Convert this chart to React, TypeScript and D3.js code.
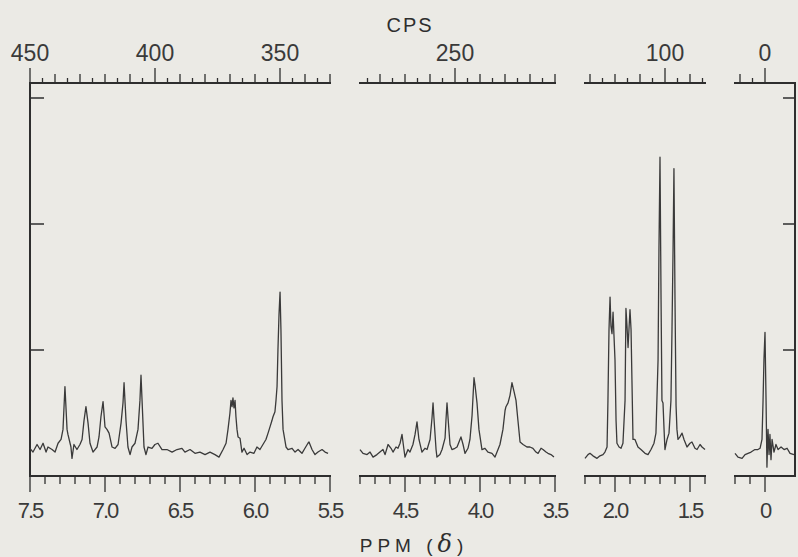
import * as d3 from "d3";

// 60 Mc NMR trace, broken ppm axis with cps scale on top
const MHZ = 60;

// ppm range of each axis piece (high -> low)
const segRanges: [number, number][] = [[7.5, 5.5], [4.8, 3.5], [2.2, 1.4], [0.2, -0.2]];

// bottom labels
const ppmTicks = [7.5, 7.0, 6.5, 6.0, 5.5, 4.5, 4.0, 3.5, 2.0, 1.5, 0];
const ppmTickText = ["7.5", "7.0", "6.5", "6.0", "5.5", "4.5", "4.0", "3.5", "2.0", "1.5", "0"];
// top labels
const cpsTicks = [450, 400, 350, 250, 100, 0];

// trace pieces: [ppm, intensity]
const traceVinyl: [number, number][] = [
  [7.5, 2.2], [7.48, 1.9], [7.453, 2.5], [7.433, 2.1], [7.413, 2.6], [7.393, 1.9], [7.38, 2.3], [7.353, 2.1],
  [7.333, 1.9], [7.313, 2.6], [7.293, 2.9], [7.28, 3.7], [7.267, 7.1], [7.253, 3.7], [7.247, 3.3], [7.227, 2.3],
  [7.22, 1.4], [7.207, 2.5], [7.187, 2.1], [7.167, 2.5], [7.153, 2.9], [7.14, 4.4], [7.127, 5.5], [7.113, 4.2],
  [7.1, 2.6], [7.08, 1.9], [7.053, 2.3], [7.04, 3.1], [7.027, 4.7], [7.013, 5.9], [7.0, 3.9], [6.987, 3.7],
  [6.973, 3.4], [6.953, 2.3], [6.933, 2.2], [6.913, 2.5], [6.893, 4.2], [6.88, 5.8], [6.873, 7.4], [6.86, 4.4],
  [6.847, 2.3], [6.833, 1.7], [6.82, 2.3], [6.8, 2.6], [6.78, 3.7], [6.767, 6.0], [6.76, 8.0], [6.753, 6.0],
  [6.74, 2.3], [6.727, 1.7], [6.713, 2.3], [6.687, 2.2], [6.667, 2.5], [6.647, 2.6], [6.62, 2.1], [6.587, 2.1],
  [6.553, 1.9], [6.52, 2.1], [6.487, 2.2], [6.467, 1.9], [6.433, 2.1], [6.4, 1.8], [6.367, 1.9], [6.333, 1.7],
  [6.3, 1.9], [6.267, 1.7], [6.24, 1.5], [6.213, 2.1], [6.193, 2.6], [6.18, 3.7], [6.167, 5.0], [6.16, 6.0],
  [6.153, 5.5], [6.147, 6.2], [6.14, 5.4], [6.133, 6.0], [6.127, 4.7], [6.12, 3.7], [6.113, 3.1], [6.1, 3.0],
  [6.087, 1.9], [6.073, 2.2], [6.053, 1.7], [6.033, 1.9], [6.007, 1.8], [5.987, 2.3], [5.967, 2.1], [5.947, 2.5],
  [5.927, 2.9], [5.913, 3.4], [5.9, 3.9], [5.887, 4.4], [5.88, 4.7], [5.867, 5.1], [5.86, 6.0], [5.853, 7.1],
  [5.847, 10.0], [5.84, 12.8], [5.833, 14.6], [5.827, 11.6], [5.82, 6.0], [5.813, 3.7], [5.793, 2.3], [5.78, 2.1],
  [5.753, 2.2], [5.733, 1.9], [5.713, 2.1], [5.687, 1.8], [5.667, 2.2], [5.647, 2.6], [5.64, 2.7], [5.62, 2.1],
  [5.6, 1.7], [5.58, 1.9], [5.553, 2.1], [5.533, 1.9], [5.513, 1.8],
];

const traceMid: [number, number][] = [
  [4.8, 2.1], [4.78, 1.8], [4.753, 1.7], [4.733, 1.9], [4.713, 1.5], [4.687, 1.7], [4.667, 1.9], [4.647, 2.1],
  [4.633, 1.7], [4.613, 2.5], [4.593, 2.2], [4.58, 1.9], [4.56, 2.3], [4.547, 2.2], [4.533, 2.6], [4.52, 3.3],
  [4.507, 2.1], [4.5, 1.5], [4.48, 2.1], [4.467, 1.9], [4.447, 2.5], [4.433, 3.3], [4.42, 4.3], [4.407, 2.9],
  [4.387, 1.9], [4.367, 2.2], [4.353, 2.1], [4.333, 2.9], [4.32, 4.6], [4.313, 5.8], [4.307, 4.6], [4.293, 2.1],
  [4.287, 1.5], [4.267, 1.7], [4.253, 2.1], [4.233, 3.0], [4.227, 4.4], [4.22, 5.8], [4.213, 4.6], [4.2, 2.5],
  [4.187, 2.1], [4.167, 2.2], [4.153, 2.3], [4.14, 2.7], [4.127, 3.1], [4.113, 2.5], [4.1, 1.8], [4.08, 2.2],
  [4.067, 2.9], [4.053, 4.8], [4.04, 7.8], [4.033, 7.2], [4.02, 5.8], [4.007, 3.7], [3.987, 2.1], [3.967, 2.2],
  [3.947, 1.9], [3.92, 1.8], [3.9, 1.5], [3.88, 2.1], [3.867, 2.5], [3.847, 3.7], [3.833, 5.2], [3.827, 5.5],
  [3.813, 5.8], [3.8, 6.4], [3.787, 7.4], [3.773, 6.7], [3.76, 6.0], [3.747, 4.4], [3.733, 2.7], [3.713, 2.5],
  [3.687, 2.3], [3.667, 2.3], [3.647, 2.2], [3.627, 1.9], [3.613, 1.8], [3.593, 2.2], [3.58, 2.1], [3.56, 1.9],
  [3.547, 1.8], [3.527, 1.7], [3.507, 1.5],
];

const traceMethyl: [number, number][] = [
  [2.2, 1.4], [2.18, 1.7], [2.167, 1.8], [2.147, 1.6], [2.12, 1.4], [2.1, 1.6], [2.08, 1.7], [2.067, 1.9],
  [2.053, 2.3], [2.047, 6.0], [2.04, 11.6], [2.033, 14.2], [2.027, 11.9], [2.02, 11.3], [2.013, 13.0], [2.007, 11.2],
  [2.0, 9.2], [1.993, 4.4], [1.987, 2.6], [1.973, 2.3], [1.96, 2.2], [1.947, 2.6], [1.933, 6.0], [1.927, 13.3],
  [1.92, 11.9], [1.913, 10.2], [1.907, 11.6], [1.9, 13.2], [1.893, 11.6], [1.887, 7.6], [1.88, 2.9], [1.867, 2.9],
  [1.847, 2.3], [1.827, 2.1], [1.8, 1.8], [1.78, 1.7], [1.76, 2.1], [1.74, 2.6], [1.727, 3.4], [1.713, 9.2],
  [1.707, 17.9], [1.7, 25.3], [1.693, 14.0], [1.687, 6.0], [1.68, 5.8], [1.673, 3.7], [1.667, 2.1], [1.653, 2.9],
  [1.64, 3.4], [1.627, 6.0], [1.62, 11.6], [1.613, 17.9], [1.607, 24.4], [1.6, 14.0], [1.593, 5.6], [1.587, 3.7],
  [1.58, 2.9], [1.567, 3.1], [1.553, 3.4], [1.54, 2.9], [1.52, 2.3], [1.5, 2.6], [1.487, 2.7], [1.467, 2.2],
  [1.453, 2.1], [1.433, 2.5], [1.42, 2.3], [1.4, 2.1],
];

const traceTms: [number, number][] = [
  [0.2, 1.8], [0.18, 1.5], [0.153, 1.4], [0.133, 1.7], [0.113, 1.8], [0.093, 1.9], [0.067, 2.1], [0.047, 2.1],
  [0.033, 2.2], [0.02, 2.9], [0.013, 6.0], [0.007, 9.2], [0.0, 11.4], [-0.007, 6.0], [-0.013, 0.7], [-0.02, 3.7],
  [-0.027, 1.7], [-0.033, 3.3], [-0.04, 1.3], [-0.047, 2.9], [-0.06, 1.9], [-0.073, 2.5], [-0.087, 2.1], [-0.107, 2.3],
  [-0.127, 2.1], [-0.147, 2.2], [-0.167, 1.8], [-0.193, 1.7],
];

const traces = [traceVinyl, traceMid, traceMethyl, traceTms];

export default function App() {
  const width = 798
  const height = 557
  const top = 83
  const bottom = 476
  const pxPerPpm = 150
  const segLeft = [30, 360, 585, 735]
  const ink = "#2e2e2e"

  const xScales = segRanges.map(([hi, lo], i) =>
    d3.scaleLinear().domain([hi, lo]).range([segLeft[i], segLeft[i] + (hi - lo) * pxPerPpm]))
  const yScale = d3.scaleLinear().domain([0, 30]).range([bottom, 98])
  const frameLeft = xScales[0](segRanges[0][0])
  const frameRight = xScales[3](segRanges[3][1])

  const segOf = (ppm: number) => segRanges.findIndex(([hi, lo]) => ppm <= hi + 1e-6 && ppm >= lo - 1e-6)

  return (
    <svg width={width} height={height} style={{ position: "fixed", left: 0, top: 0, background: "#ebeae5" }}
      fontFamily="'Liberation Sans', Arial, sans-serif">
      {/* frame */}
      <line x1={frameLeft} x2={frameLeft} y1={top - 1} y2={bottom + 1} stroke={ink} strokeWidth={2} />
      <line x1={frameRight} x2={frameRight} y1={top - 1} y2={bottom + 1} stroke={ink} strokeWidth={2} />
      {yScale.ticks(3).filter(t => t > 0).map(t => (
        <g key={t}>
          <line x1={frameLeft} x2={frameLeft + 14} y1={yScale(t)} y2={yScale(t)} stroke={ink} strokeWidth={1.5} />
          <line x1={frameRight - 12} x2={frameRight} y1={yScale(t)} y2={yScale(t)} stroke={ink} strokeWidth={1.5} />
        </g>
      ))}

      {segRanges.map(([hi, lo], i) => {
        const x = xScales[i]
        const ppmTickList = d3.range(Math.round(hi * 10), Math.round(Math.max(lo, 0) * 10) - 1, -1)
        const cpsHi = Math.floor(hi * MHZ / 5) * 5
        const cpsLo = Math.ceil(Math.max(lo, 0) * MHZ / 5) * 5
        const cpsTickList = d3.range(cpsHi, cpsLo - 1, -5)
        const line = d3.line<[number, number]>().x(d => x(d[0])).y(d => yScale(d[1]))
        return (
          <g key={i}>
            {/* top cps axis */}
            <line x1={x(hi) - 1} x2={x(lo) + 1} y1={top} y2={top} stroke={ink} strokeWidth={2} />
            {cpsTickList.map(c => {
              const len = c % 50 === 0 ? 15 : c % 10 === 0 ? 9 : 5
              return <line key={c} x1={x(c / MHZ)} x2={x(c / MHZ)} y1={top} y2={top - len} stroke={ink} strokeWidth={1.3} />
            })}
            {/* bottom ppm axis */}
            <line x1={x(hi) - 1} x2={x(Math.max(lo, i === 3 ? lo : lo)) + 1} y1={bottom} y2={bottom} stroke={ink} strokeWidth={2} />
            {ppmTickList.map(k => (
              <line key={k} x1={x(k / 10)} x2={x(k / 10)} y1={bottom} y2={bottom + (k % 5 === 0 ? 16 : 8)}
                stroke={ink} strokeWidth={1.3} />
            ))}
            <path d={line(traces[i]) ?? ""} fill="none" stroke="#3a3a3a" strokeWidth={1.3} strokeLinejoin="round" />
          </g>
        )
      })}

      {ppmTicks.map((p, i) => (
        <text key={p} x={xScales[segOf(p)](p)} y={518} textAnchor="middle" fontSize={22} letterSpacing={-2}
          fill="#3a3a3a">{ppmTickText[i]}</text>
      ))}
      {cpsTicks.map(c => (
        <text key={c} x={xScales[segOf(c / MHZ)](c / MHZ)} y={61} textAnchor="middle" fontSize={23}
          fill="#3a3a3a">{c}</text>
      ))}

      <text x={410} y={32} textAnchor="middle" fontSize={20} letterSpacing={2} fill={ink}>CPS</text>
      <text x={414} y={552} textAnchor="middle" fontSize={19} letterSpacing={5} fill={ink}>
        PPM (<tspan fontStyle="italic" fontSize={24} fontFamily="'DejaVu Serif', serif">δ</tspan>)
      </text>
    </svg>
  )
}
